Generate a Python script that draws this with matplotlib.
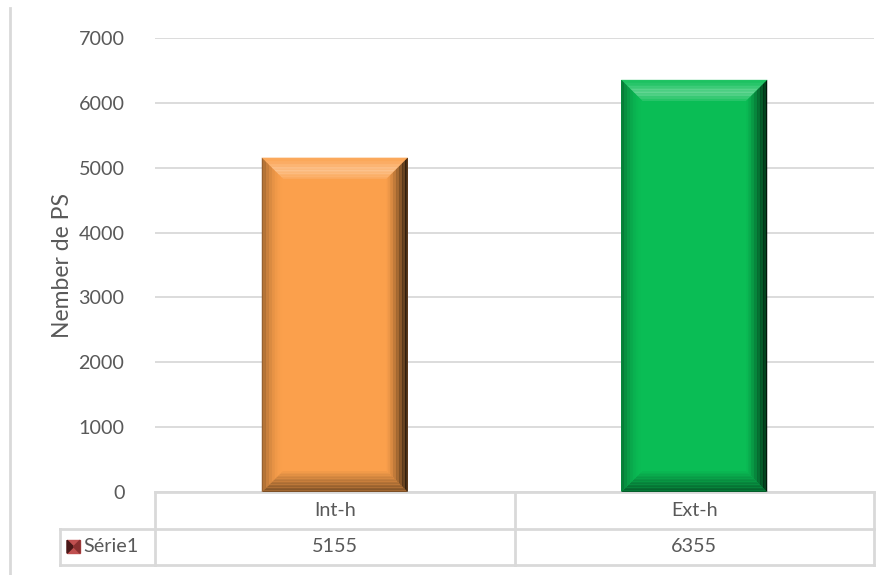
import matplotlib
matplotlib.use("Agg")
import matplotlib.pyplot as plt
import numpy as np
from matplotlib.patches import Polygon, Rectangle
from matplotlib.lines import Line2D
import matplotlib.colors as mcolors

categories = ["Int-h", "Ext-h"]
values = [5155, 6355]
series_name = "Série1"
yticks = [0, 1000, 2000, 3000, 4000, 5000, 6000, 7000]
ylabel = "Nember de PS"
bar_colors = ["#FBA04C", "#0ABD55"]

plt.rcParams['font.family'] = ['Lato', 'DejaVu Sans']
TXT = "#595959"
GRID = "#D9D9D9"
FS = 14.2

W, H = 890, 575
fig = plt.figure(figsize=(W/100, H/100), dpi=100)
ax = fig.add_axes([155/W, (H-492)/H, 719/W, (492-38)/H])

x = np.arange(len(categories))
bars = ax.bar(x, values, width=0.406, color=bar_colors, zorder=2)
ax.set_xlim(-0.5, len(categories)-0.5)
ax.set_ylim(yticks[0], yticks[-1])
ax.set_yticks(yticks)
ax.set_yticklabels([str(t) for t in yticks], fontsize=FS, color=TXT)
ax.tick_params(axis='y', length=0, pad=22)
ax.set_xticks([])
ax.grid(axis='y', color=GRID, linewidth=1.3, zorder=0)
for s in ax.spines.values():
    s.set_visible(False)
ax.set_ylabel(ylabel, fontsize=16.5, color=TXT)
ax.yaxis.set_label_coords((73-155)/719, 0.5)

fig.canvas.draw()

def shade(c, f):
    r = np.array(mcolors.to_rgb(c))
    if f >= 0:
        return tuple(r + (1-r)*f)
    return tuple(r*(1+f))

# bevel decoration derived from bar geometry
bev = 21
for b, c in zip(bars, bar_colors):
    (x0, y0), (x1, y1) = ax.transData.transform([(b.get_x(), 0), (b.get_x()+b.get_width(), b.get_height())])
    n = 14
    for i in range(n):
        t0, t1 = i/n*bev, (i+1)/n*bev
        f = i/n
        hl = 0.08 + 0.28*np.exp(-((f-0.55)/0.3)**2)
        top = Polygon([(x0+t0, y1-t0), (x1-t0, y1-t0), (x1-t1, y1-t1), (x0+t1, y1-t1)],
                      closed=True, transform=None, color=shade(c, hl), lw=0, zorder=3)
        fig.add_artist(top)
        bot = Polygon([(x0+t0, y0+t0), (x1-t0, y0+t0), (x1-t1, y0+t1), (x0+t1, y0+t1)],
                      closed=True, transform=None, color=shade(c, -0.5*(1-f)), lw=0, zorder=3)
        fig.add_artist(bot)
        rt = Polygon([(x1-t0, y1-t0), (x1-t0, y0+t0), (x1-t1, y0+t1), (x1-t1, y1-t1)],
                     closed=True, transform=None, color=shade(c, -0.88*(1-f)**1.3), lw=0, zorder=3)
        fig.add_artist(rt)
        lf = Polygon([(x0+t0, y1-t0), (x0+t0, y0+t0), (x0+t1, y0+t1), (x0+t1, y1-t1)],
                     closed=True, transform=None, color=shade(c, -0.4*(1-f)**2), lw=0, zorder=3)
        fig.add_artist(lf)

# data table
(px0, py0) = ax.transData.transform((-0.5, 0))
(px1, _) = ax.transData.transform((len(categories)-0.5, 0))
row_h = 36.5
lx = 60
lines = []
lines.append(([px0, px1], [py0, py0]))
lines.append(([lx, px1], [py0-row_h, py0-row_h]))
lines.append(([lx, px1], [py0-2*row_h, py0-2*row_h]))
lines.append(([lx, lx], [py0-row_h, py0-2*row_h]))
lines.append(([px0, px0], [py0, py0-2*row_h]))
lines.append(([px1, px1], [py0, py0-2*row_h]))
for i in range(1, len(categories)):
    xm, _ = ax.transData.transform((i-0.5, 0))
    lines.append(([xm, xm], [py0, py0-2*row_h]))
for xs, ys in lines:
    fig.add_artist(Line2D(xs, ys, transform=None, color=GRID, lw=2))

for i, (cat, v) in enumerate(zip(categories, values)):
    xc, _ = ax.transData.transform((i, 0))
    fig.text(xc/W, (py0-row_h/2)/H, cat, ha='center', va='center', fontsize=FS, color=TXT)
    fig.text(xc/W, (py0-1.5*row_h)/H, f"{v}", ha='center', va='center', fontsize=FS, color=TXT)

# legend key + series name
ky = py0-1.5*row_h
key = Rectangle((67, ky-6.5), 13, 13, transform=None, color="#C05050", zorder=5)
fig.add_artist(key)
fig.add_artist(Polygon([(67, ky-6.5), (67, ky+6.5), (73.5, ky)], closed=True, transform=None, color="#4A1818", zorder=6))
fig.add_artist(Polygon([(80, ky-6.5), (80, ky+6.5), (73.5, ky)], closed=True, transform=None, color="#8A3030", zorder=6))
fig.text(83/W, ky/H, series_name, ha='left', va='center', fontsize=FS, color=TXT)

# outer chart border (left side)
fig.add_artist(Line2D([10, 10], [0, H-8], transform=None, color=GRID, lw=2))

fig.savefig("out.png", dpi=100)
